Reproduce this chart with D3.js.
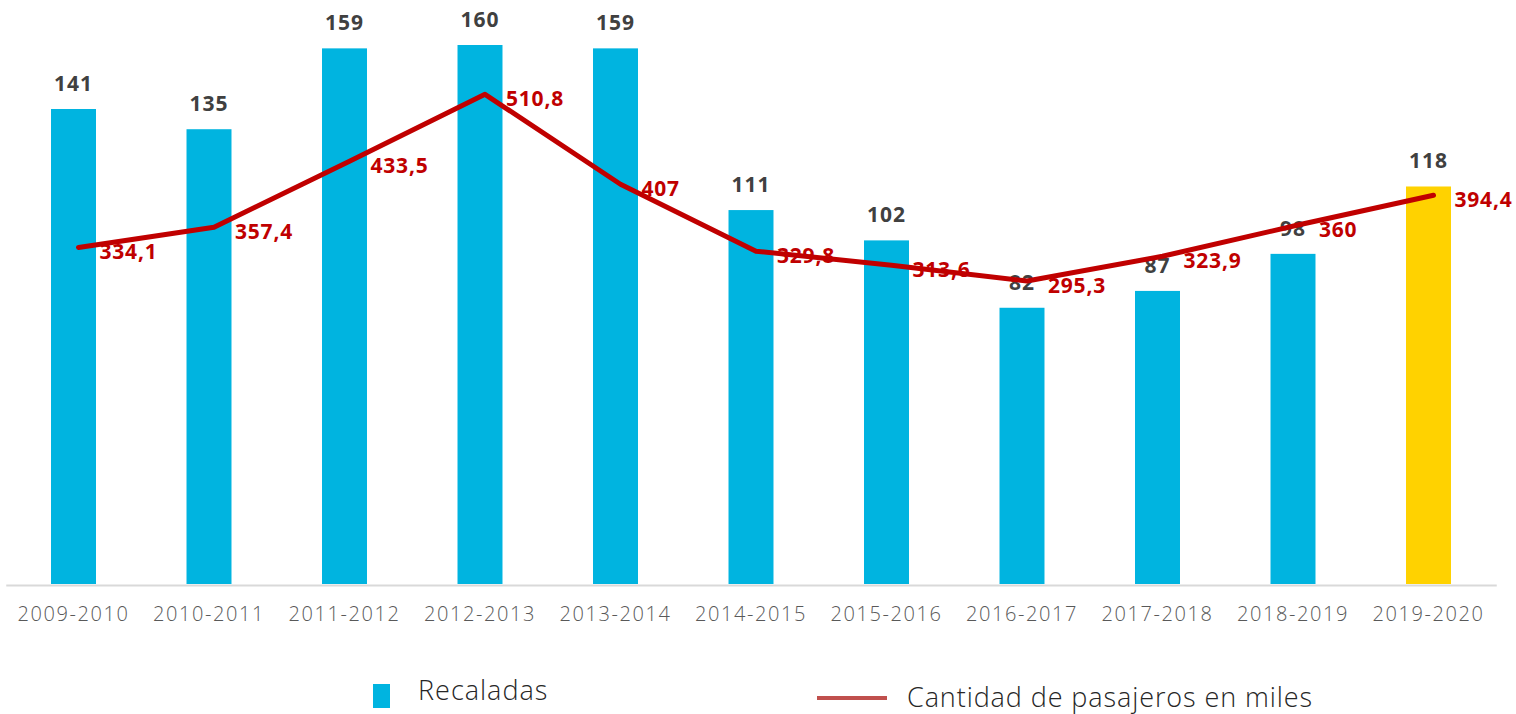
<!DOCTYPE html>
<html>
<head>
<meta charset="utf-8">
<script src="https://cdn.jsdelivr.net/npm/d3@7"></script>
<style>
	body { margin: 0; background: #fff; }
	svg text { font-family: "Open Sans", Lato, sans-serif; }
</style>
</head>
<body>
<svg id="chart" width="1516" height="714"></svg>
<script>
// data
var seasons = ["2009-2010", "2010-2011", "2011-2012", "2012-2013", "2013-2014", "2014-2015",
	"2015-2016", "2016-2017", "2017-2018", "2018-2019", "2019-2020"];
var recaladas = [141, 135, 159, 160, 159, 111, 102, 82, 87, 98, 118];
var pasajeros = [334.1, 357.4, 433.5, 510.8, 407, 329.8, 313.6, 295.3, 323.9, 360, 394.4];
var highlight = "2019-2020";

var svg = d3.select("svg#chart");

var x = d3.scaleBand()
		.domain(seasons)
		.range([5.75, 1496.25])
		.paddingInner(0.668)
		.paddingOuter(0.334);

var yBar = d3.scaleLinear().domain([0, 160]).range([584, 45]);
var yLine = d3.scaleLinear().domain([0, 600]).range([537, 17]);

function fmt(v) {
	return String(v).replace(".", ",");
}

//Bars
svg.selectAll(".bar")
		.data(recaladas)
		.enter().append("rect")
		.attr("class", "bar")
		.attr("x", function (d, i) { return x(seasons[i]); })
		.attr("y", function (d) { return yBar(d); })
		.attr("width", x.bandwidth())
		.attr("height", function (d) { return yBar(0) - yBar(d); })
		.attr("fill", function (d, i) { return seasons[i] === highlight ? "#FFD200" : "#00B4E0"; });

//x axis
var xAxis = d3.axisBottom(x).tickSize(0).tickSizeOuter(0);
var gx = svg.append("g")
		.attr("transform", "translate(0,585)")
		.call(xAxis);
gx.select(".domain").attr("stroke", "#D9D9D9").attr("stroke-width", 2);
gx.selectAll("text")
		.attr("dy", 0)
		.attr("y", 36)
		.attr("fill", "#595959")
		.style("font-family", "'Open Sans', sans-serif")
		.style("font-size", "20px")
		.style("letter-spacing", "1.6px")
		.style("font-weight", 300);

//Bar labels
svg.selectAll(".bar-label")
		.data(recaladas)
		.enter().append("text")
		.attr("class", "bar-label")
		.attr("x", function (d, i) { return x(seasons[i]) + x.bandwidth() / 2; })
		.attr("y", function (d) { return yBar(d) - 18; })
		.attr("text-anchor", "middle")
		.attr("fill", "#404040")
		.style("font-size", "21px")
		.style("letter-spacing", "1px")
		.style("font-weight", "bold")
		.text(function (d) { return d; });

//Line
var lx = function (d, i) { return x(seasons[i]) + x.bandwidth() / 2 + 5; };
var line = d3.line()
		.x(lx)
		.y(function (d) { return yLine(d); });

svg.append("path")
		.datum(pasajeros)
		.attr("d", line)
		.attr("fill", "none")
		.attr("stroke", "#C00000")
		.attr("stroke-width", 5)
		.attr("stroke-linecap", "round")
		.attr("stroke-linejoin", "round");

svg.selectAll(".line-label")
		.data(pasajeros)
		.enter().append("text")
		.attr("class", "line-label")
		.attr("x", function (d, i) { return lx(d, i) + 21; })
		.attr("y", function (d) { return yLine(d) + 12; })
		.attr("fill", "#C00000")
		.style("font-size", "21px")
		.style("letter-spacing", "0.8px")
		.style("font-weight", "bold")
		.text(function (d) { return fmt(d); });

//Legend
var legend = svg.append("g").attr("class", "legend");
legend.append("rect")
		.attr("x", 373).attr("y", 684)
		.attr("width", 17).attr("height", 24)
		.attr("fill", "#00B4E0");
legend.append("text")
		.attr("x", 418).attr("y", 700)
		.attr("fill", "#262626")
		.style("font-size", "27px")
		.style("letter-spacing", "1px")
		.style("font-weight", 300)
		.text("Recaladas");
legend.append("line")
		.attr("x1", 817).attr("x2", 887)
		.attr("y1", 698).attr("y2", 698)
		.attr("stroke", "#C0504D")
		.attr("stroke-width", 4);
legend.append("text")
		.attr("x", 907).attr("y", 707)
		.attr("fill", "#262626")
		.style("font-size", "27px")
		.style("letter-spacing", "0.9px")
		.style("font-weight", 300)
		.text("Cantidad de pasajeros en miles");
</script>
</body>
</html>
